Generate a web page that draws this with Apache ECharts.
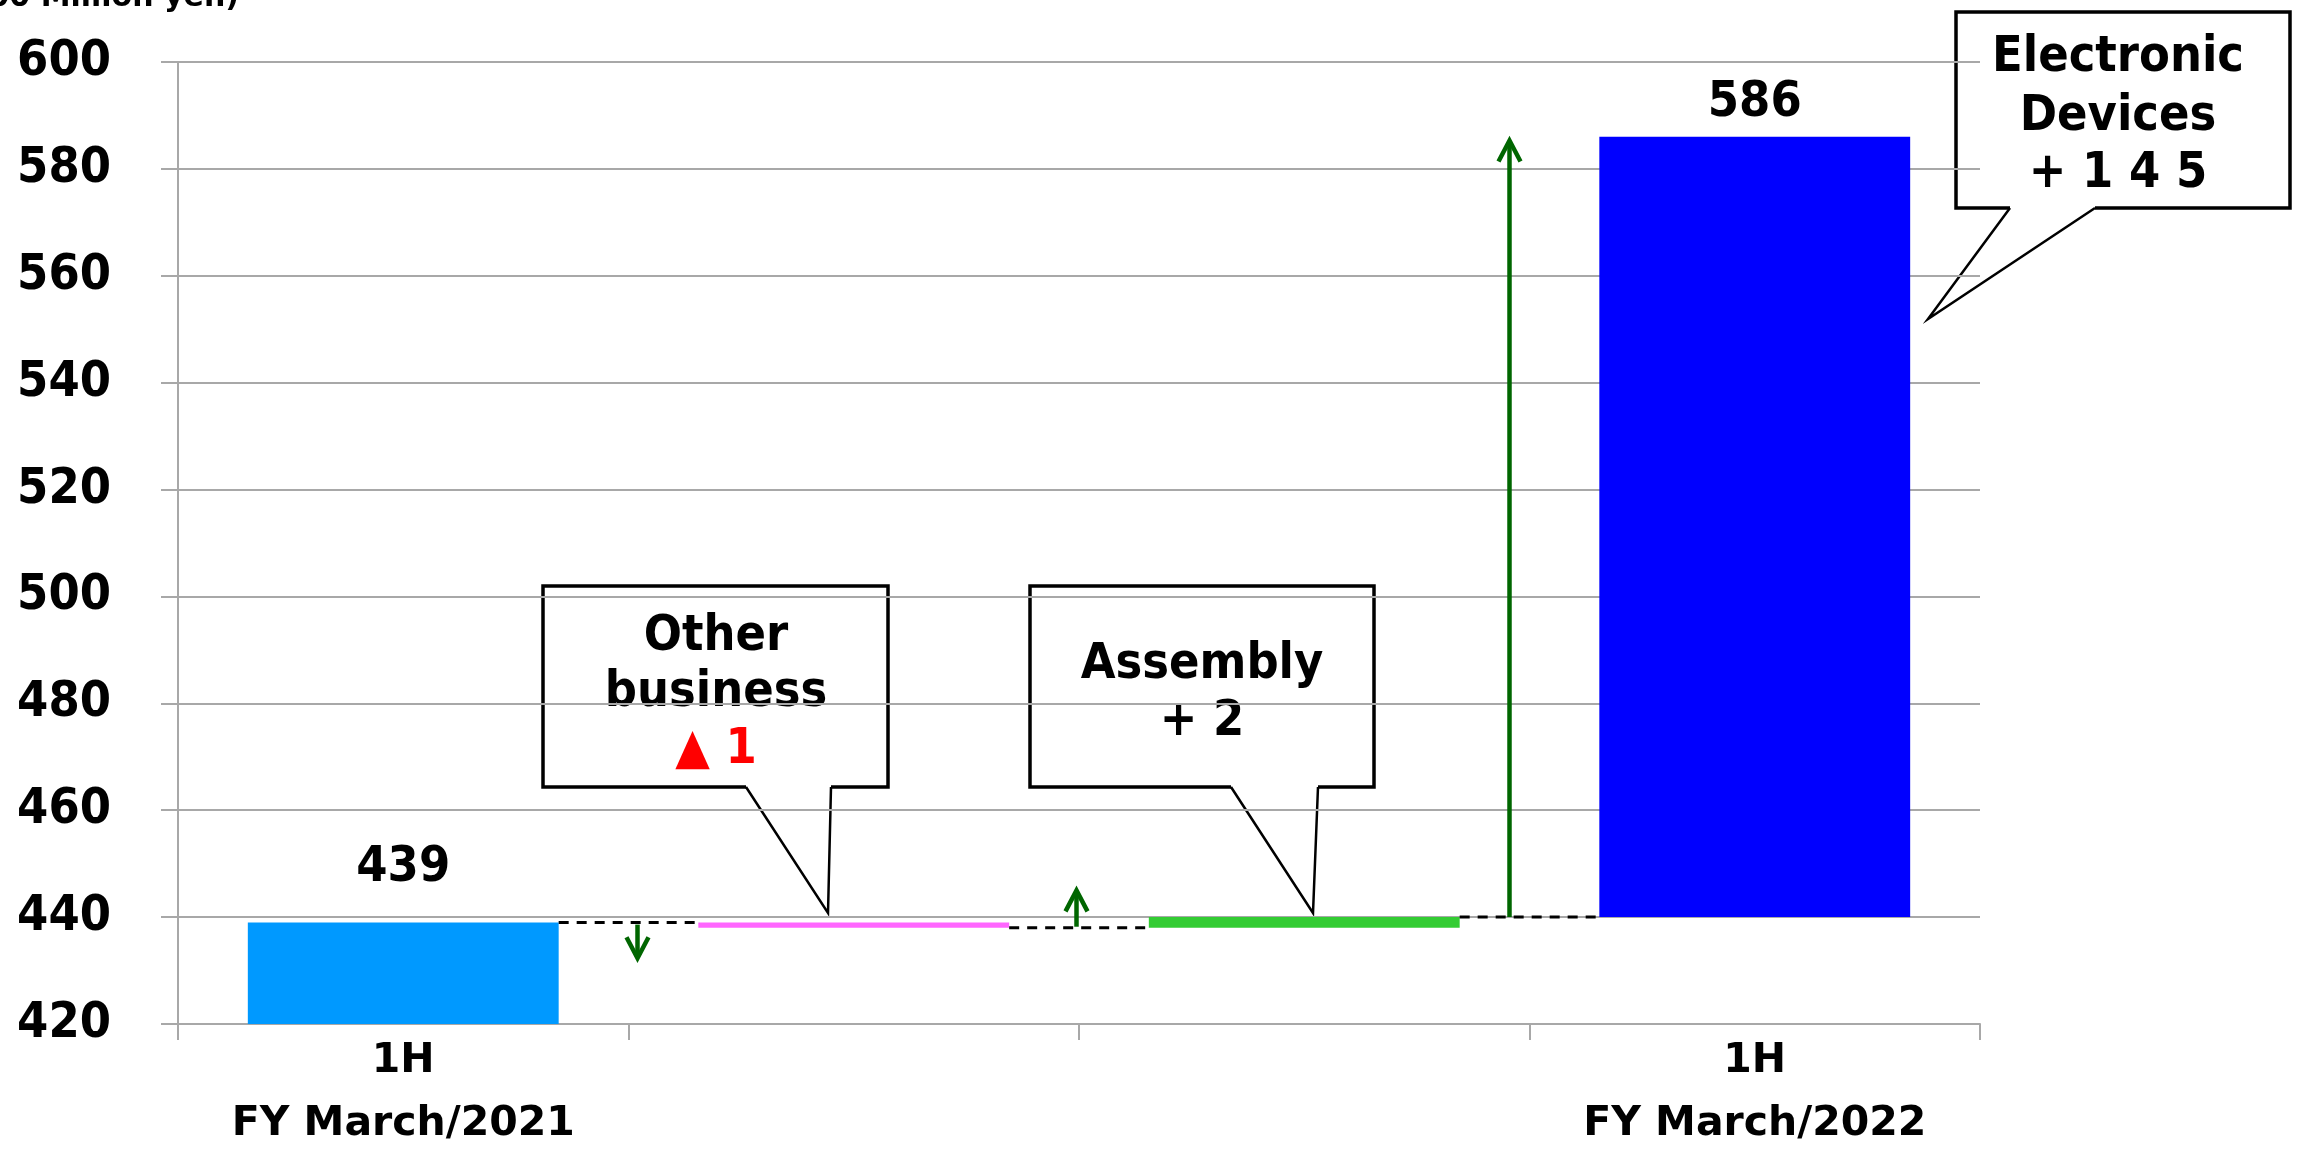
<!DOCTYPE html>
<html>
<head>
<meta charset="utf-8">
<script src="https://cdn.jsdelivr.net/npm/echarts@6/dist/echarts.min.js"></script>
<style>
  html, body { margin: 0; padding: 0; background: #ffffff; }
  #chart { width: 2297px; height: 1156px; }
</style>
</head>
<body>
<div id="chart"></div>
<script>
// ---- data ----
const categories = ['1H\nFY March/2021', '', '', '1H\nFY March/2022'];
const startValue = 439;                 // 1H FY March/2021
const stepNames = ['Other business', 'Assembly', 'Electronic Devices'];
const stepChanges = [-1, 2, 145];
const endValue = 586;                   // 1H FY March/2022
const yMin = 420, yMax = 600, yStep = 20;

// ---- styling ----
const FONT_NARROW = '"DejaVu Sans Condensed", "DejaVu Sans", sans-serif';
const FONT_WIDE = '"DejaVu Sans", sans-serif';
const barColors = ['#0099FF', '#FF66FF', '#33CC33', '#0000FF'];
const gridColor = '#A8A8A8';
const arrowColor = '#006600';
const BAR_RATIO = 0.69;

// running levels after each step
const levels = [startValue];
stepChanges.forEach((c, i) => levels.push(levels[i] + c));

// invisible base + visible part of every waterfall bar
const baseData = [0];
const visData = [startValue];
stepChanges.forEach((c, i) => {
  if (i < stepChanges.length - 1) {
    baseData.push(Math.min(levels[i], levels[i + 1]));
    visData.push(Math.abs(c));
  }
});
const lastLevel = levels[stepChanges.length - 1];
baseData.push(lastLevel);
visData.push(endValue - lastLevel);

const totals = { 0: startValue, 3: endValue };
const labelGap = { 0: 29, 3: 9 };

const visItems = visData.map((v, i) => {
  const item = { value: v, itemStyle: { color: barColors[i] } };
  if (totals[i] !== undefined) {
    item.label = {
      show: true, position: 'top', distance: labelGap[i],
      formatter: String(totals[i]),
      fontFamily: FONT_NARROW, fontWeight: 'bold', fontSize: 50, color: '#000'
    };
  }
  return item;
});

// dashed connectors between consecutive bars
const connectorData = [0, 1, 2].map(i => [i, levels[i]]);

// change arrows in the gaps between bars: [gap index, from, to]
const arrowData = [
  [0, levels[0] - 0.4, levels[0] - 6.7],
  [1, levels[1] + 0.2, levels[1] + 7],
  [2, levels[2], levels[2] + stepChanges[2] + 0.3]
];
const arrowShift = [9, -2.5, -20];

function renderConnector(params, api) {
  const i = api.value(0), lvl = api.value(1);
  const band = api.size([1, 0])[0];
  const half = band * BAR_RATIO / 2;
  const a = api.coord([i, lvl]);
  const b = api.coord([i + 1, lvl]);
  return {
    type: 'line',
    shape: { x1: a[0] + half, y1: a[1], x2: b[0] - half, y2: b[1] },
    style: { stroke: '#000', lineWidth: 3, lineDash: [10, 8] }
  };
}

function renderArrow(params, api) {
  const k = api.value(0), from = api.value(1), to = api.value(2);
  const band = api.size([1, 0])[0];
  const x = api.coord([k, from])[0] + band / 2 + arrowShift[params.dataIndex];
  const y1 = api.coord([k, from])[1];
  const y2 = api.coord([k, to])[1];
  const w = y2 < y1 ? 21 : -21;
  return {
    type: 'group',
    children: [
      { type: 'line', shape: { x1: x, y1: y1, x2: x, y2: y2 + (w > 0 ? 2 : -2) },
        style: { stroke: arrowColor, lineWidth: 4.5 } },
      { type: 'polyline', shape: { points: [[x - 11, y2 + w], [x, y2], [x + 11, y2 + w]] },
        style: { stroke: arrowColor, lineWidth: 4.5, fill: null } }
    ]
  };
}

// callout boxes with pointer
function callout(box, base, tip, lines) {
  const [l, t, r, b] = box;
  const fillShape = {
    type: 'polygon',
    shape: { points: [[l, t], [r, t], [r, b], [base[1], b], tip, [base[0], b], [l, b]] },
    style: { fill: '#ffffff', stroke: null }
  };
  const frame = {
    type: 'polyline',
    shape: { points: [[base[0], b], [l, b], [l, t], [r, t], [r, b], [base[1], b]] },
    style: { stroke: '#000', lineWidth: 3.5, fill: null, lineJoin: 'miter' }
  };
  const pointer = {
    type: 'polyline',
    shape: { points: [[base[1], b], tip, [base[0], b]] },
    style: { stroke: '#000', lineWidth: 2.5, fill: null }
  };
  const texts = lines.map(ln => ({
    type: 'text',
    x: ln.x, y: ln.y,
    style: {
      text: ln.text, textAlign: 'center', textVerticalAlign: 'middle',
      font: 'bold 50px ' + FONT_NARROW, fill: ln.color || '#000'
    }
  }));
  return { type: 'group', children: [fillShape, frame, pointer].concat(texts) };
}

const chart = echarts.init(document.getElementById('chart'), null, { renderer: 'canvas' });

chart.setOption({
  animation: false,
  backgroundColor: '#ffffff',
  grid: { left: 178, right: 317, top: 62, bottom: 123, containLabel: false },
  xAxis: {
    type: 'category',
    data: categories,
    axisLine: { show: true, lineStyle: { color: gridColor, width: 2 } },
    axisTick: { show: true, length: 16, lineStyle: { color: gridColor, width: 2 } },
    axisLabel: {
      fontFamily: FONT_WIDE, fontWeight: 'bold', fontSize: 41, color: '#000',
      lineHeight: 63, margin: 6, interval: 0
    },
    splitLine: { show: false }
  },
  yAxis: {
    type: 'value',
    min: yMin, max: yMax, interval: yStep,
    axisLine: { show: true, lineStyle: { color: gridColor, width: 2 } },
    axisTick: { show: true, length: 17, lineStyle: { color: gridColor, width: 2 } },
    axisLabel: { fontFamily: FONT_NARROW, fontWeight: 'bold', fontSize: 50, color: '#000', margin: 67 },
    splitLine: { show: true, lineStyle: { color: gridColor, width: 2 } }
  },
  series: [
    {
      name: 'base', type: 'bar', stack: 'wf', barWidth: (BAR_RATIO * 100) + '%',
      itemStyle: { color: 'rgba(0,0,0,0)' }, emphasis: { disabled: true },
      data: baseData
    },
    {
      name: 'value', type: 'bar', stack: 'wf', barWidth: (BAR_RATIO * 100) + '%',
      data: visItems
    },
    {
      name: 'connectors', type: 'custom', renderItem: renderConnector,
      data: connectorData, z: 3, silent: true
    },
    {
      name: 'arrows', type: 'custom', renderItem: renderArrow,
      data: arrowData, z: 4, silent: true
    }
  ],
  graphic: [
    {
      type: 'text', x: 239, y: -2,
      style: { text: '(100 Million yen)', textAlign: 'right', textVerticalAlign: 'middle',
               font: 'bold 30px ' + FONT_WIDE, fill: '#000' }
    },
    callout([543, 586, 888, 787], [746, 831], [828, 913], [
      { text: 'Other', x: 716, y: 637 },
      { text: 'business', x: 716, y: 693 },
      { text: '▲ 1', x: 716, y: 750, color: '#FF0000' }
    ]),
    callout([1030, 586, 1374, 787], [1231, 1318], [1313, 913], [
      { text: stepNames[1], x: 1202, y: 665 },
      { text: '+ 2', x: 1202, y: 722 }
    ]),
    callout([1956, 12, 2290, 208], [2010, 2095], [1928, 319], [
      { text: 'Electronic', x: 2118, y: 58 },
      { text: 'Devices', x: 2118, y: 117 },
      { text: '+ 1 4 5', x: 2118, y: 174 }
    ])
  ]
});
</script>
</body>
</html>
